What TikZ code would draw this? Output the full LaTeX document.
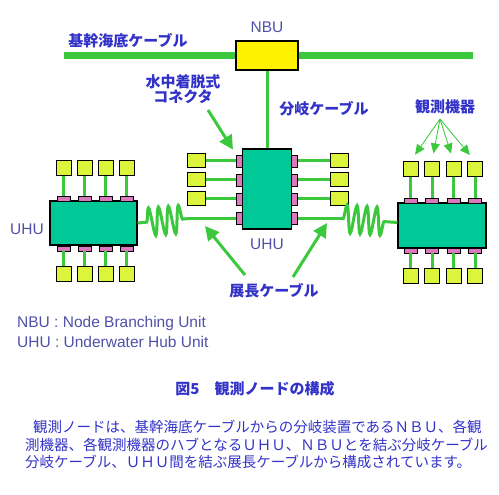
\documentclass[tikz,border=0pt]{standalone}
\usepackage{fontspec}
\setmainfont{Liberation Sans}
\newfontfamily\jp{Noto Sans CJK JP}
\usepackage{xcolor}
\usetikzlibrary{positioning,arrows.meta,decorations.pathmorphing}

\definecolor{cable}{HTML}{3CC83C}
\definecolor{hubc}{HTML}{00C896}
\definecolor{sens}{HTML}{DCF53C}
\definecolor{pinc}{HTML}{DC78BE}
\definecolor{nbuc}{HTML}{FFF200}
\definecolor{lbl}{HTML}{3232C8}
\definecolor{abbr}{HTML}{5050A8}

\begin{document}
\begin{tikzpicture}[
    x=1pt, y=-1pt, node distance=20pt,
    every node/.style={inner sep=0pt},
    hubbox/.style={draw=black, line width=1.1pt, fill=hubc},
    pinh/.style={draw=black, line width=0.6pt, fill=pinc,
                 minimum width=13pt, minimum height=5pt},
    pinv/.style={pinh, minimum width=6pt, minimum height=12pt},
    sensor/.style={draw=black, line width=1pt, fill=sens,
                   minimum width=15pt, minimum height=15pt},
    sensorw/.style={sensor, minimum width=18pt, minimum height=14pt},
    link/.style={draw=cable, line width=3pt},
    trunk/.style={draw=cable, line width=7pt},
    coil/.style={decorate, decoration={snake, segment length=10pt,
                 amplitude=14pt, #1}},
    bigarr/.style={-{Triangle[length=14pt,width=14pt]}, draw=cable,
                   fill=cable, line width=3pt},
    thinarr/.style={-{Triangle[length=10pt,width=9pt]}, draw=cable,
                    fill=cable, line width=0.8pt},
    jlbl/.style={font=\jp\bfseries\fontsize{15}{14}\selectfont,
                 text=lbl, align=center},
    elbl/.style={font=\fontsize{15.5}{17}\selectfont, text=abbr}
  ]
  \useasboundingbox (0,0) rectangle (499,495);

  \node[draw=black, line width=1.1pt, fill=nbuc, minimum width=62pt,
        minimum height=29pt] (nbu) at (267,55.5) {};
  \node[elbl, above=8pt of nbu] (nbuL) {NBU};
  \coordinate (trW) at (64,55.5);
  \coordinate (trE) at (473,55.5);
  \draw[trunk] (trW) -- (nbu);
  \draw[trunk] (nbu) -- (trE);
  \node[jlbl] (trunkL) at (128,41) {基幹海底ケーブル};

  % center UHU
  \node[hubbox, minimum width=49pt, minimum height=80pt] (uhuC) at (267,189) {};
  \node[pinv] (pCl1) at (239.5,161) {};
  \node[pinv] (pCl2) at (239.5,180) {};
  \node[pinv] (pCl3) at (239.5,199) {};
  \node[pinv] (pCl4) at (239.5,218.5) {};
  \node[pinv] (pCr1) at (294.5,161) {};
  \node[pinv] (pCr2) at (294.5,180) {};
  \node[pinv] (pCr3) at (294.5,199) {};
  \node[pinv] (pCr4) at (294.5,218.5) {};
  \node[sensorw, left=30pt of pCl1]  (sCl1) {};
  \node[sensorw, left=30pt of pCl2]  (sCl2) {};
  \node[sensorw, left=30pt of pCl3]  (sCl3) {};
  \node[sensorw, right=32pt of pCr1] (sCr1) {};
  \node[sensorw, right=32pt of pCr2] (sCr2) {};
  \node[sensorw, right=32pt of pCr3] (sCr3) {};
  \node[elbl, below=9pt of uhuC] (uhuCl) {UHU};

  % left UHU
  \node[hubbox, minimum width=87pt, minimum height=44pt] (uhuL) at (93.5,223) {};
  \node[pinh] (pLt1) at (63.5,198.5) {};
  \node[pinh] (pLt2) at (84.5,198.5) {};
  \node[pinh] (pLt3) at (105.5,198.5) {};
  \node[pinh] (pLt4) at (126.5,198.5) {};
  \node[pinh] (pLb1) at (63.5,248.5) {};
  \node[pinh] (pLb2) at (84.5,248.5) {};
  \node[pinh] (pLb3) at (105.5,248.5) {};
  \node[pinh] (pLb4) at (126.5,248.5) {};
  \node[sensor, above=20pt of pLt1] (sLt1) {};
  \node[sensor, above=20pt of pLt2] (sLt2) {};
  \node[sensor, above=20pt of pLt3] (sLt3) {};
  \node[sensor, above=20pt of pLt4] (sLt4) {};
  \node[sensor, below=15pt of pLb1] (sLb1) {};
  \node[sensor, below=15pt of pLb2] (sLb2) {};
  \node[sensor, below=15pt of pLb3] (sLb3) {};
  \node[sensor, below=15pt of pLb4] (sLb4) {};
  \node[elbl] (uhuLl) at (27,229) {UHU};

  % right UHU
  \node[hubbox, minimum width=88pt, minimum height=45pt] (uhuR) at (442,225.5) {};
  \node[pinh] (pRt1) at (410.5,201) {};
  \node[pinh] (pRt2) at (432,201) {};
  \node[pinh] (pRt3) at (453.5,201) {};
  \node[pinh] (pRt4) at (475,201) {};
  \node[pinh] (pRb1) at (410.5,250.5) {};
  \node[pinh] (pRb2) at (432,250.5) {};
  \node[pinh] (pRb3) at (453.5,250.5) {};
  \node[pinh] (pRb4) at (475,250.5) {};
  \node[sensor, above=21pt of pRt1] (sRt1) {};
  \node[sensor, above=21pt of pRt2] (sRt2) {};
  \node[sensor, above=21pt of pRt3] (sRt3) {};
  \node[sensor, above=21pt of pRt4] (sRt4) {};
  \node[sensor, below=15pt of pRb1] (sRb1) {};
  \node[sensor, below=15pt of pRb2] (sRb2) {};
  \node[sensor, below=15pt of pRb3] (sRb3) {};
  \node[sensor, below=15pt of pRb4] (sRb4) {};

  \draw[link] (nbu) -- (uhuC);
  \draw[link] (sCl1) -- (pCl1);
  \draw[link] (sCl2) -- (pCl2);
  \draw[link] (sCl3) -- (pCl3);
  \draw[link] (sCr1) -- (pCr1);
  \draw[link] (sCr2) -- (pCr2);
  \draw[link] (sCr3) -- (pCr3);
  \draw[link] (sLt1) -- (pLt1);
  \draw[link] (sLt2) -- (pLt2);
  \draw[link] (sLt3) -- (pLt3);
  \draw[link] (sLt4) -- (pLt4);
  \draw[link] (sLb1) -- (pLb1);
  \draw[link] (sLb2) -- (pLb2);
  \draw[link] (sLb3) -- (pLb3);
  \draw[link] (sLb4) -- (pLb4);
  \draw[link] (sRt1) -- (pRt1);
  \draw[link] (sRt2) -- (pRt2);
  \draw[link] (sRt3) -- (pRt3);
  \draw[link] (sRt4) -- (pRt4);
  \draw[link] (sRb1) -- (pRb1);
  \draw[link] (sRb2) -- (pRb2);
  \draw[link] (sRb3) -- (pRb3);
  \draw[link] (sRb4) -- (pRb4);

  % extension cables
  \coordinate (coilL) at (189,218.5);
  \coordinate (coilR) at (340,218.5);
  \draw[link, coil={pre length=9pt, post length=2pt}] (uhuL.east) -- (coilL);
  \draw[link] (coilL) -- (pCl4);
  \draw[link] (pCr4) -- (coilR);
  \draw[link, coil={pre length=3pt, post length=12pt}] (coilR) -- ([yshift=3pt]uhuR.west);

  \node[jlbl] (branchL) at (324,109) {分岐ケーブル};
  \node[jlbl] (connL) at (183,89) {水中着脱式\\コネクタ};
  \node[jlbl] (obsL) at (445,107) {観測機器};
  \node[jlbl] (extL) at (274,291) {展長ケーブル};

  \coordinate (connA) at (208,110);
  \draw[bigarr, shorten >=6pt] (connA) -- (pCl1.north west);
  \coordinate (obsA) at (440,119);
  \draw[thinarr, shorten >=8pt] (obsA) -- (sRt1.north);
  \draw[thinarr, shorten >=8pt] (obsA) -- (sRt2.north);
  \draw[thinarr, shorten >=8pt] (obsA) -- (sRt3.north);
  \draw[thinarr, shorten >=8pt] (obsA) -- (sRt4.north);
  \coordinate (extA) at (245,275);
  \coordinate (extB) at (205,226);
  \coordinate (extC) at (293,277);
  \coordinate (extD) at (327,223);
  \draw[bigarr] (extA) -- (extB);
  \draw[bigarr] (extC) -- (extD);

  \node[elbl, anchor=west] (legN) at (17,323) {NBU : Node Branching Unit};
  \node[elbl, anchor=west] (legU) at (17,342) {UHU : Underwater Hub Unit};
  \node[font=\jp\bfseries\fontsize{15}{17}\selectfont, text=lbl] (title)
       at (255,389) {図5　観測ノードの構成};
  \node[font=\jp\fontsize{14.5}{17.5}\selectfont, text=lbl, align=left,
        anchor=north west] (body) at (25,420)
       {\hspace*{8pt}観測ノードは、基幹海底ケーブルからの分岐装置であるＮＢＵ、各観\\
        測機器、各観測機器のハブとなるＵＨＵ、ＮＢＵとを結ぶ分岐ケーブル\\
        分岐ケーブル、ＵＨＵ間を結ぶ展長ケーブルから構成されています。};
\end{tikzpicture}
\end{document}
